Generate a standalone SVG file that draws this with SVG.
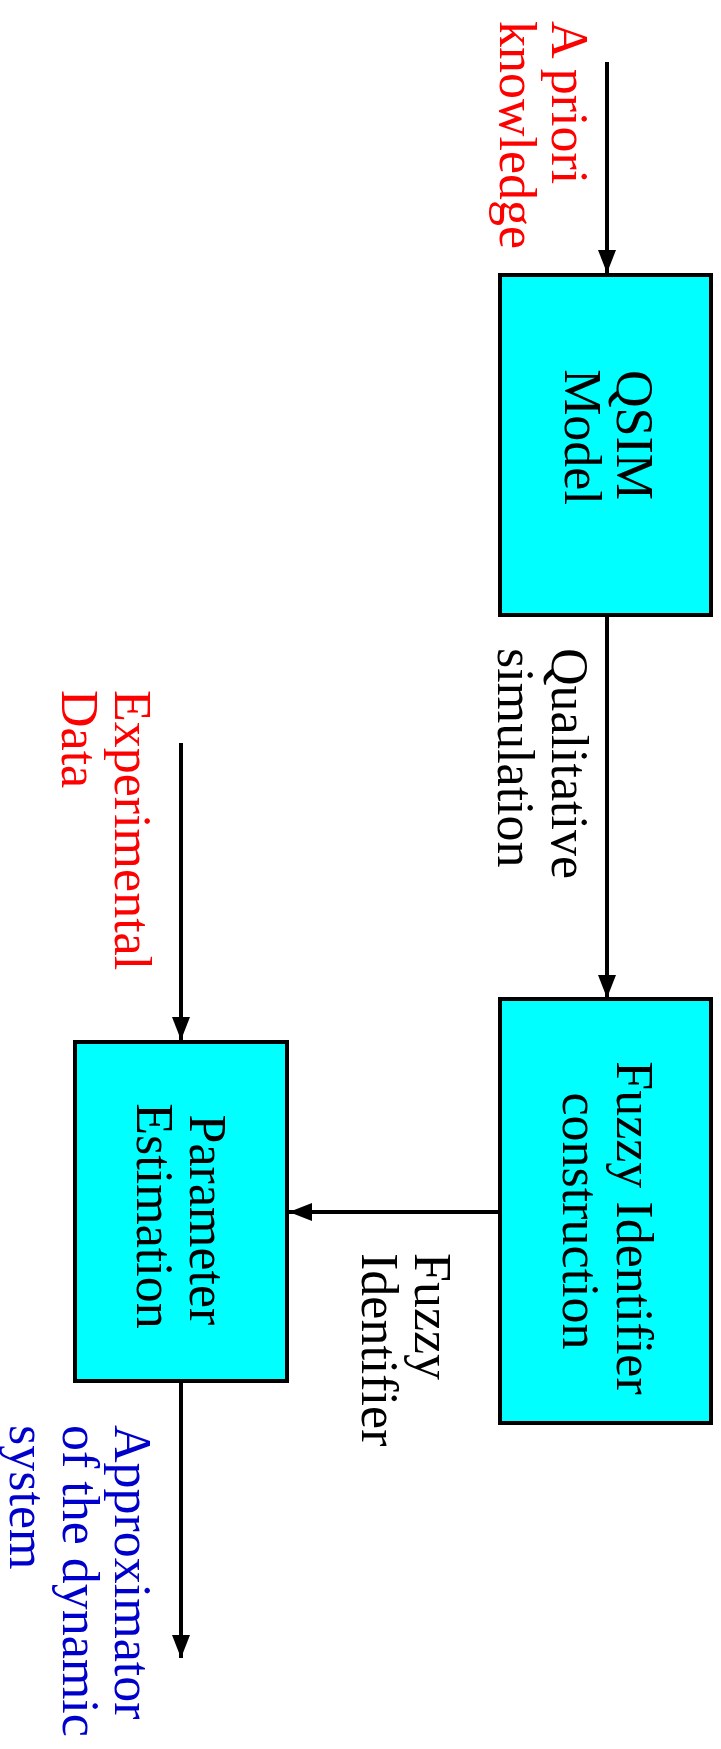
<svg xmlns="http://www.w3.org/2000/svg" width="721" height="1749" viewBox="0 0 721 1749">
<style>
.box{fill:#00ffff;stroke:#000;stroke-width:4}
.t{font-family:"Liberation Serif","Times New Roman",serif;font-size:52px}
.k{fill:#000}
.r{fill:#ff0000}
.b{fill:#0000cc}
.m{text-anchor:middle}
.s{text-anchor:start}
.c{stroke:#000;stroke-width:4;fill:none;marker-end:url(#ah)}
</style>
<defs>
<marker id="ah" viewBox="0 0 23 18" markerWidth="23" markerHeight="18" refX="23" refY="9" orient="auto" markerUnits="userSpaceOnUse">
<path d="M0,0 L23,9 L0,18 z" fill="#000"/>
</marker>
</defs>
<rect width="721" height="1749" fill="#fff"/>
<g id="connectors">
<line class="c" x1="607" y1="62" x2="607" y2="273"/>
<line class="c" x1="607" y1="617" x2="607" y2="998"/>
<line class="c" x1="498" y1="1212" x2="289" y2="1212"/>
<line class="c" x1="181" y1="743" x2="181" y2="1040"/>
<line class="c" x1="181" y1="1383" x2="181" y2="1658"/>
</g>
<g id="qsim">
<rect class="box" x="500" y="275" width="211" height="340"/>
<text class="t k m" transform="translate(617,435) rotate(90)">QSIM</text>
<text class="t k m" transform="translate(565,437) rotate(90)">Model</text>
</g>
<g id="fuzzy">
<rect class="box" x="500" y="999" width="211" height="424"/>
<text class="t k m" transform="translate(617,1228) rotate(90)">Fuzzy Identifier</text>
<text class="t k m" transform="translate(563,1221) rotate(90)">construction</text>
</g>
<g id="param">
<rect class="box" x="75" y="1042" width="212" height="339"/>
<text class="t k m" transform="translate(190,1220) rotate(90)">Parameter</text>
<text class="t k m" transform="translate(137,1216) rotate(90)">Estimation</text>
</g>
<g id="labels">
<text class="t r s" transform="translate(552,21) rotate(90)">A priori</text>
<text class="t r s" transform="translate(500,21) rotate(90)">knowledge</text>
<text class="t k s" transform="translate(552,648) rotate(90)">Qualitative</text>
<text class="t k s" transform="translate(498,648) rotate(90)">simulation</text>
<text class="t k s" transform="translate(415,1253) rotate(90)">Fuzzy</text>
<text class="t k s" transform="translate(362,1253) rotate(90)">Identifier</text>
<text class="t r s" transform="translate(115,690) rotate(90)">Experimental</text>
<text class="t r s" transform="translate(62,690) rotate(90)">Data</text>
<text class="t b s" transform="translate(115,1425) rotate(90)">Approximator</text>
<text class="t b s" transform="translate(63,1425) rotate(90)">of the dynamic</text>
<text class="t b s" transform="translate(10,1425) rotate(90)">system</text>
</g>
</svg>
